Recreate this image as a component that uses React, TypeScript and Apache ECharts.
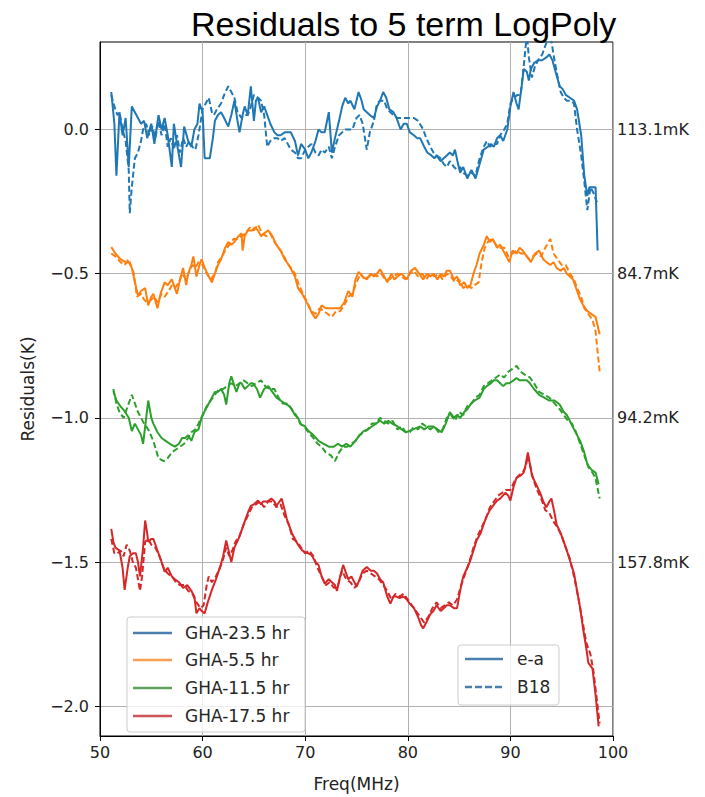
import React, { useEffect, useRef } from "react";
import * as echarts from "echarts";

// ---- data (frequency MHz, residual K) ----
const ea_23: number[][] = [[51.1,0.13],[51.4,0.02],[51.6,-0.16],[51.9,0.06],[52.2,-0.02],[52.5,0.04],[52.8,-0.13],[53.1,0.08],[53.4,0.06],[53.7,0.04],[54.0,0.02],[54.3,0.03],[54.6,-0.03],[55.0,0.02],[55.3,-0.05],[55.7,0.05],[56.0,0.0],[56.3,0.04],[56.6,-0.02],[57.0,-0.13],[57.2,0.02],[57.5,-0.05],[57.9,-0.13],[58.2,0.01],[58.6,-0.04],[58.9,-0.06],[59.2,0.0],[59.5,0.02],[59.7,0.09],[60.0,0.06],[60.2,-0.1],[60.7,-0.1],[61.0,-0.03],[61.2,0.03],[61.5,0.05],[61.8,0.06],[62.1,0.04],[62.5,0.01],[62.8,0.05],[63.1,0.1],[63.4,0.03],[63.6,-0.01],[63.9,0.05],[64.1,0.08],[64.4,0.05],[64.7,0.15],[65.0,0.03],[65.2,0.1],[65.4,0.11],[65.7,0.06],[66.0,0.08],[66.3,0.05],[66.6,0.02],[67.0,-0.01],[67.3,-0.02],[67.6,-0.02],[68.0,-0.01],[68.3,-0.01],[68.6,-0.01],[69.0,-0.04],[69.3,-0.09],[69.6,-0.05],[70.0,-0.07],[70.3,-0.1],[70.6,-0.08],[71.0,-0.04],[71.3,0.0],[71.6,-0.01],[71.9,-0.01],[72.3,0.06],[72.6,-0.08],[72.9,-0.03],[73.3,0.03],[73.6,0.08],[73.9,0.11],[74.2,0.09],[74.4,0.1],[74.8,0.07],[75.2,0.13],[75.5,0.1],[75.7,0.07],[76.0,0.06],[76.3,0.05],[76.7,0.04],[77.0,0.08],[77.3,0.1],[77.6,0.13],[77.9,0.11],[78.2,0.07],[78.6,0.06],[78.9,0.04],[79.3,0.0],[79.6,0.02],[79.9,0.02],[80.2,-0.01],[80.6,-0.02],[80.9,-0.03],[81.2,-0.03],[81.6,-0.06],[81.9,-0.08],[82.3,-0.09],[82.6,-0.1],[82.8,-0.09],[83.2,-0.11],[83.5,-0.1],[83.8,-0.09],[84.1,-0.08],[84.4,-0.09],[84.6,-0.07],[84.9,-0.12],[85.1,-0.15],[85.4,-0.13],[85.8,-0.17],[86.2,-0.14],[86.6,-0.17],[87.0,-0.12],[87.4,-0.07],[87.8,-0.06],[88.1,-0.05],[88.4,-0.06],[88.7,-0.03],[89.0,-0.02],[89.3,-0.04],[89.7,0.0],[90.0,0.08],[90.3,0.13],[90.6,0.09],[90.8,0.07],[91.1,0.15],[91.3,0.21],[91.6,0.2],[91.8,0.17],[92.0,0.21],[92.3,0.23],[92.7,0.24],[93.1,0.24],[93.5,0.25],[93.8,0.26],[94.1,0.24],[94.4,0.2],[94.8,0.15],[95.1,0.14],[95.4,0.12],[95.8,0.11],[96.2,0.1],[96.5,0.07],[96.9,-0.02],[97.2,-0.16],[97.5,-0.23],[97.7,-0.2],[98.0,-0.2],[98.3,-0.2],[98.5,-0.42]];
const b18_23: number[][] = [[51.1,0.12],[51.4,0.08],[51.7,0.05],[51.9,0.06],[52.2,0.0],[52.5,-0.04],[52.8,-0.14],[52.9,-0.29],[53.1,-0.2],[53.4,-0.1],[53.7,-0.08],[54.0,-0.04],[54.2,0.0],[54.5,0.02],[54.8,-0.02],[55.1,0.01],[55.4,-0.03],[55.7,0.03],[56.0,-0.02],[56.3,0.02],[56.6,-0.06],[56.9,-0.03],[57.2,-0.07],[57.5,-0.02],[57.8,-0.08],[58.1,-0.03],[58.4,-0.06],[58.7,-0.04],[59.0,-0.06],[59.3,-0.07],[59.6,-0.02],[60.0,0.07],[60.3,0.09],[60.6,0.11],[60.9,0.06],[61.1,0.05],[61.4,0.07],[61.8,0.09],[62.1,0.12],[62.5,0.15],[62.8,0.13],[63.1,0.11],[63.4,0.06],[63.8,0.04],[64.1,0.05],[64.4,0.05],[64.7,0.08],[65.0,0.12],[65.4,0.11],[65.7,0.1],[66.0,0.05],[66.3,-0.06],[66.6,-0.04],[67.0,-0.03],[67.3,-0.03],[67.6,-0.04],[68.0,-0.03],[68.3,-0.05],[68.6,-0.07],[69.0,-0.08],[69.3,-0.1],[69.6,-0.1],[70.0,-0.07],[70.3,-0.06],[70.6,-0.05],[71.0,-0.08],[71.3,-0.09],[71.6,-0.07],[71.9,-0.08],[72.3,-0.06],[72.6,-0.1],[72.9,-0.06],[73.3,-0.02],[73.6,-0.01],[73.9,0.0],[74.3,0.0],[74.6,0.0],[75.0,0.04],[75.3,0.05],[75.6,0.02],[76.0,-0.07],[76.3,-0.01],[76.7,0.03],[77.0,0.09],[77.3,0.1],[77.7,0.1],[78.0,0.07],[78.3,0.06],[78.6,0.05],[79.0,0.04],[79.3,0.04],[79.6,0.04],[80.0,0.04],[80.3,0.04],[80.6,0.04],[81.0,0.03],[81.5,0.0],[81.8,-0.03],[82.2,-0.06],[82.5,-0.08],[82.8,-0.09],[83.2,-0.1],[83.5,-0.12],[83.8,-0.13],[84.1,-0.11],[84.5,-0.13],[84.8,-0.14],[85.1,-0.13],[85.4,-0.15],[85.8,-0.16],[86.2,-0.15],[86.6,-0.16],[87.0,-0.1],[87.4,-0.06],[87.7,-0.04],[88.0,-0.06],[88.4,-0.05],[88.7,-0.05],[89.0,-0.02],[89.4,0.0],[89.7,0.02],[90.0,0.09],[90.3,0.11],[90.7,0.12],[91.0,0.12],[91.3,0.22],[91.6,0.33],[91.8,0.25],[92.1,0.18],[92.4,0.22],[92.7,0.24],[93.1,0.26],[93.5,0.3],[93.9,0.33],[94.2,0.26],[94.5,0.2],[94.9,0.13],[95.2,0.11],[95.5,0.1],[95.9,0.1],[96.2,0.09],[96.5,0.0],[96.9,-0.09],[97.2,-0.18],[97.5,-0.28],[97.8,-0.2],[98.1,-0.22],[98.4,-0.25],[98.7,-0.24]];

const ea_5: number[][] = [[51.1,-0.408],[51.5,-0.43],[52.0,-0.45],[52.5,-0.46],[52.8,-0.46],[53.1,-0.48],[53.4,-0.53],[53.7,-0.575],[54.0,-0.56],[54.4,-0.55],[54.7,-0.61],[55.0,-0.58],[55.2,-0.57],[55.6,-0.62],[55.9,-0.57],[56.3,-0.53],[56.6,-0.54],[57.0,-0.52],[57.3,-0.55],[57.5,-0.57],[57.8,-0.52],[58.1,-0.48],[58.4,-0.54],[58.6,-0.5],[58.9,-0.47],[59.1,-0.44],[59.4,-0.51],[59.7,-0.47],[59.9,-0.45],[60.2,-0.48],[60.6,-0.51],[60.9,-0.53],[61.2,-0.5],[61.5,-0.47],[61.8,-0.45],[62.2,-0.41],[62.5,-0.39],[62.8,-0.4],[63.1,-0.39],[63.5,-0.37],[63.8,-0.36],[63.9,-0.42],[64.1,-0.37],[64.4,-0.35],[64.8,-0.35],[65.1,-0.34],[65.4,-0.35],[65.7,-0.37],[66.0,-0.36],[66.4,-0.35],[66.8,-0.37],[67.2,-0.4],[67.6,-0.42],[68.0,-0.45],[68.4,-0.47],[68.7,-0.49],[69.0,-0.51],[69.3,-0.55],[69.7,-0.57],[70.0,-0.59],[70.3,-0.61],[70.7,-0.64],[71.0,-0.655],[71.3,-0.64],[71.6,-0.61],[72.0,-0.62],[72.3,-0.62],[72.8,-0.62],[73.4,-0.62],[73.8,-0.6],[74.2,-0.56],[74.6,-0.58],[74.9,-0.52],[75.2,-0.494],[75.6,-0.51],[76.0,-0.52],[76.4,-0.5],[76.7,-0.51],[77.0,-0.5],[77.3,-0.485],[77.7,-0.51],[78.0,-0.53],[78.4,-0.5],[78.7,-0.52],[79.0,-0.51],[79.4,-0.5],[79.9,-0.52],[80.3,-0.49],[80.7,-0.48],[81.1,-0.5],[81.5,-0.52],[81.9,-0.5],[82.2,-0.51],[82.5,-0.5],[82.9,-0.52],[83.2,-0.5],[83.5,-0.51],[83.8,-0.49],[84.1,-0.49],[84.5,-0.52],[84.8,-0.51],[85.1,-0.54],[85.5,-0.53],[85.8,-0.55],[86.1,-0.54],[86.4,-0.5],[86.7,-0.47],[87.0,-0.43],[87.4,-0.4],[87.7,-0.37],[88.0,-0.39],[88.3,-0.38],[88.7,-0.41],[89.0,-0.4],[89.3,-0.42],[89.6,-0.44],[89.9,-0.46],[90.2,-0.42],[90.6,-0.43],[90.9,-0.41],[91.2,-0.42],[91.6,-0.44],[92.0,-0.46],[92.4,-0.43],[92.8,-0.42],[93.2,-0.45],[93.5,-0.46],[93.9,-0.47],[94.2,-0.46],[94.5,-0.48],[94.9,-0.49],[95.2,-0.48],[95.5,-0.5],[95.8,-0.51],[96.1,-0.52],[96.5,-0.56],[96.8,-0.59],[97.1,-0.61],[97.5,-0.63],[97.9,-0.64],[98.3,-0.65],[98.5,-0.68],[98.7,-0.71]];
const b18_5: number[][] = [[51.1,-0.43],[51.5,-0.44],[52.0,-0.46],[52.4,-0.47],[52.8,-0.45],[53.0,-0.47],[53.3,-0.5],[53.6,-0.58],[54.0,-0.57],[54.3,-0.59],[54.6,-0.6],[55.0,-0.59],[55.3,-0.58],[55.6,-0.6],[56.0,-0.57],[56.3,-0.58],[56.7,-0.56],[57.0,-0.54],[57.3,-0.55],[57.7,-0.53],[58.0,-0.5],[58.4,-0.52],[58.7,-0.49],[59.0,-0.47],[59.3,-0.48],[59.6,-0.46],[60.0,-0.47],[60.4,-0.5],[60.8,-0.52],[61.2,-0.5],[61.5,-0.46],[61.9,-0.44],[62.2,-0.42],[62.6,-0.4],[63.0,-0.38],[63.4,-0.38],[63.8,-0.37],[64.2,-0.36],[64.6,-0.34],[65.0,-0.35],[65.4,-0.33],[65.8,-0.36],[66.2,-0.37],[66.6,-0.36],[67.0,-0.39],[67.4,-0.41],[67.8,-0.43],[68.2,-0.46],[68.6,-0.48],[69.0,-0.5],[69.4,-0.54],[69.8,-0.57],[70.2,-0.6],[70.6,-0.63],[71.0,-0.64],[71.4,-0.62],[71.8,-0.63],[72.2,-0.64],[72.6,-0.65],[73.0,-0.63],[73.4,-0.63],[73.8,-0.61],[74.2,-0.58],[74.6,-0.57],[75.0,-0.53],[75.4,-0.5],[75.8,-0.52],[76.2,-0.51],[76.6,-0.5],[77.0,-0.51],[77.4,-0.5],[77.8,-0.52],[78.2,-0.52],[78.6,-0.51],[79.0,-0.5],[79.4,-0.51],[79.8,-0.52],[80.2,-0.5],[80.6,-0.49],[81.0,-0.51],[81.4,-0.5],[81.8,-0.52],[82.2,-0.5],[82.6,-0.51],[83.0,-0.5],[83.4,-0.52],[83.8,-0.5],[84.2,-0.51],[84.6,-0.53],[85.0,-0.52],[85.4,-0.55],[85.8,-0.54],[86.2,-0.55],[86.5,-0.54],[86.9,-0.53],[87.2,-0.46],[87.5,-0.41],[87.8,-0.39],[88.2,-0.38],[88.6,-0.4],[89.0,-0.41],[89.4,-0.41],[89.8,-0.44],[90.2,-0.43],[90.6,-0.42],[91.0,-0.43],[91.4,-0.43],[91.8,-0.45],[92.2,-0.44],[92.6,-0.43],[93.0,-0.44],[93.4,-0.41],[93.9,-0.38],[94.2,-0.43],[94.6,-0.45],[95.0,-0.47],[95.4,-0.47],[95.8,-0.5],[96.2,-0.52],[96.5,-0.55],[96.9,-0.58],[97.2,-0.62],[97.6,-0.64],[98.0,-0.66],[98.3,-0.7],[98.5,-0.77],[98.7,-0.84]];

const ea_11: number[][] = [[51.3,-0.908],[51.6,-0.94],[52.0,-0.96],[52.4,-0.977],[52.8,-1.0],[53.1,-1.046],[53.4,-1.02],[53.7,-1.04],[54.0,-1.06],[54.2,-1.09],[54.5,-1.0],[54.7,-0.94],[55.0,-1.0],[55.2,-1.02],[55.6,-1.05],[56.0,-1.07],[56.4,-1.08],[56.8,-1.09],[57.3,-1.1],[57.7,-1.09],[58.0,-1.07],[58.3,-1.07],[58.6,-1.06],[58.9,-1.08],[59.2,-1.05],[59.6,-1.04],[59.9,-1.0],[60.2,-0.977],[60.6,-0.95],[60.9,-0.93],[61.2,-0.91],[61.5,-0.91],[61.8,-0.9],[62.1,-0.92],[62.3,-0.954],[62.6,-0.88],[62.8,-0.856],[63.1,-0.89],[63.3,-0.91],[63.6,-0.88],[63.8,-0.88],[64.1,-0.9],[64.4,-0.89],[64.7,-0.88],[64.9,-0.88],[65.3,-0.9],[65.6,-0.93],[66.0,-0.9],[66.4,-0.89],[66.8,-0.91],[67.2,-0.93],[67.6,-0.94],[68.0,-0.95],[68.5,-0.96],[69.0,-0.99],[69.3,-1.0],[69.6,-1.023],[70.0,-1.03],[70.3,-1.045],[70.8,-1.06],[71.3,-1.08],[71.8,-1.09],[72.3,-1.1],[72.8,-1.1],[73.2,-1.09],[73.6,-1.1],[74.0,-1.09],[74.4,-1.1],[74.9,-1.08],[75.3,-1.06],[75.7,-1.046],[76.1,-1.04],[76.5,-1.03],[76.9,-1.02],[77.3,-1.01],[77.7,-1.02],[78.1,-1.01],[78.5,-1.02],[79.0,-1.03],[79.4,-1.04],[79.8,-1.05],[80.1,-1.046],[80.5,-1.04],[80.9,-1.035],[81.2,-1.03],[81.6,-1.04],[82.0,-1.03],[82.5,-1.03],[82.9,-1.04],[83.3,-1.05],[83.7,-1.02],[84.1,-0.98],[84.5,-1.0],[84.8,-0.99],[85.1,-1.0],[85.5,-0.98],[85.8,-0.97],[86.1,-0.954],[86.5,-0.94],[87.0,-0.93],[87.4,-0.9],[87.7,-0.89],[88.1,-0.88],[88.4,-0.87],[88.7,-0.87],[89.0,-0.88],[89.3,-0.89],[89.6,-0.88],[89.9,-0.88],[90.3,-0.87],[90.6,-0.862],[90.9,-0.87],[91.3,-0.87],[91.6,-0.87],[91.9,-0.88],[92.3,-0.9],[92.8,-0.92],[93.3,-0.93],[93.8,-0.94],[94.3,-0.94],[94.8,-0.954],[95.2,-0.98],[95.5,-0.99],[95.8,-1.011],[96.2,-1.04],[96.5,-1.06],[96.8,-1.08],[97.2,-1.12],[97.5,-1.161],[97.9,-1.18],[98.3,-1.19],[98.6,-1.23]];
const b18_11: number[][] = [[51.3,-0.9],[51.6,-0.95],[51.9,-0.98],[52.3,-1.0],[52.7,-0.96],[53.1,-0.92],[53.4,-0.95],[53.7,-0.98],[54.0,-1.0],[54.3,-1.02],[54.7,-1.04],[55.2,-1.08],[55.7,-1.14],[56.2,-1.15],[56.6,-1.14],[57.0,-1.12],[57.4,-1.11],[57.8,-1.1],[58.2,-1.09],[58.6,-1.07],[58.9,-1.05],[59.3,-1.04],[59.6,-1.02],[60.0,-0.99],[60.4,-0.96],[60.8,-0.94],[61.2,-0.92],[61.6,-0.9],[62.0,-0.9],[62.4,-0.89],[62.8,-0.88],[63.2,-0.89],[63.6,-0.88],[64.0,-0.87],[64.4,-0.88],[64.8,-0.89],[65.2,-0.88],[65.7,-0.87],[66.1,-0.89],[66.5,-0.9],[67.0,-0.9],[67.4,-0.93],[67.8,-0.95],[68.2,-0.95],[68.7,-0.97],[69.1,-0.99],[69.5,-1.02],[69.9,-1.03],[70.3,-1.05],[70.8,-1.07],[71.2,-1.09],[71.6,-1.1],[72.0,-1.12],[72.5,-1.13],[72.9,-1.15],[73.3,-1.12],[73.7,-1.1],[74.1,-1.1],[74.5,-1.09],[74.9,-1.08],[75.3,-1.06],[75.7,-1.05],[76.1,-1.04],[76.5,-1.02],[76.9,-1.02],[77.3,-1.0],[77.7,-1.01],[78.1,-1.02],[78.5,-1.01],[79.0,-1.04],[79.4,-1.03],[79.8,-1.05],[80.2,-1.05],[80.6,-1.03],[81.0,-1.04],[81.4,-1.02],[81.8,-1.03],[82.2,-1.04],[82.6,-1.03],[83.0,-1.05],[83.4,-1.04],[83.8,-1.0],[84.2,-0.99],[84.6,-1.01],[85.0,-0.98],[85.4,-0.99],[85.8,-0.96],[86.2,-0.95],[86.6,-0.93],[87.0,-0.92],[87.4,-0.89],[87.8,-0.88],[88.2,-0.87],[88.6,-0.86],[89.0,-0.85],[89.4,-0.86],[89.8,-0.84],[90.2,-0.83],[90.6,-0.82],[91.0,-0.84],[91.4,-0.85],[91.9,-0.86],[92.3,-0.88],[92.8,-0.91],[93.3,-0.92],[93.8,-0.93],[94.3,-0.95],[94.8,-0.97],[95.2,-0.99],[95.6,-1.01],[96.0,-1.02],[96.4,-1.05],[96.8,-1.09],[97.2,-1.13],[97.6,-1.17],[98.0,-1.19],[98.3,-1.21],[98.7,-1.28]];

const ea_17: number[][] = [[51.1,-1.385],[51.3,-1.43],[51.5,-1.45],[51.9,-1.46],[52.2,-1.52],[52.4,-1.597],[52.7,-1.52],[52.9,-1.48],[53.2,-1.47],[53.5,-1.47],[53.7,-1.5],[53.9,-1.55],[54.2,-1.45],[54.4,-1.356],[54.6,-1.4],[54.7,-1.43],[55.0,-1.42],[55.2,-1.42],[55.6,-1.46],[56.0,-1.5],[56.3,-1.534],[56.6,-1.52],[57.0,-1.55],[57.3,-1.56],[57.7,-1.57],[58.1,-1.59],[58.5,-1.58],[58.9,-1.6],[59.2,-1.62],[59.4,-1.678],[59.7,-1.66],[59.9,-1.67],[60.2,-1.678],[60.5,-1.64],[60.9,-1.597],[61.3,-1.56],[61.7,-1.517],[62.0,-1.48],[62.3,-1.425],[62.6,-1.47],[62.8,-1.5],[63.1,-1.45],[63.5,-1.42],[63.8,-1.39],[64.1,-1.36],[64.4,-1.33],[64.7,-1.305],[65.0,-1.3],[65.4,-1.287],[65.7,-1.3],[65.9,-1.29],[66.3,-1.29],[66.7,-1.28],[67.0,-1.29],[67.2,-1.305],[67.5,-1.29],[67.7,-1.28],[68.0,-1.32],[68.2,-1.35],[68.5,-1.38],[68.7,-1.4],[69.0,-1.42],[69.3,-1.44],[69.7,-1.46],[70.0,-1.466],[70.3,-1.47],[70.6,-1.475],[71.0,-1.5],[71.3,-1.51],[71.6,-1.55],[71.9,-1.575],[72.3,-1.56],[72.6,-1.57],[72.9,-1.58],[73.1,-1.6],[73.4,-1.55],[73.7,-1.51],[74.0,-1.54],[74.2,-1.56],[74.5,-1.55],[74.8,-1.57],[75.0,-1.586],[75.3,-1.56],[75.6,-1.53],[76.0,-1.517],[76.4,-1.53],[76.7,-1.53],[77.0,-1.54],[77.3,-1.56],[77.6,-1.57],[78.0,-1.62],[78.3,-1.644],[78.6,-1.62],[78.9,-1.62],[79.2,-1.625],[79.6,-1.62],[79.9,-1.63],[80.2,-1.645],[80.6,-1.66],[81.0,-1.69],[81.3,-1.72],[81.5,-1.73],[81.8,-1.71],[82.2,-1.68],[82.5,-1.67],[82.8,-1.65],[83.2,-1.67],[83.5,-1.66],[83.8,-1.65],[84.1,-1.65],[84.5,-1.66],[84.8,-1.66],[85.1,-1.6],[85.4,-1.55],[85.8,-1.52],[86.1,-1.494],[86.4,-1.46],[86.7,-1.425],[87.1,-1.4],[87.4,-1.368],[87.7,-1.34],[88.0,-1.32],[88.4,-1.3],[88.7,-1.287],[89.0,-1.28],[89.5,-1.26],[89.8,-1.27],[90.0,-1.287],[90.3,-1.24],[90.6,-1.207],[91.0,-1.2],[91.3,-1.19],[91.5,-1.16],[91.7,-1.12],[91.9,-1.16],[92.1,-1.2],[92.5,-1.23],[92.9,-1.26],[93.2,-1.29],[93.5,-1.31],[93.8,-1.29],[94.0,-1.28],[94.3,-1.33],[94.5,-1.37],[94.9,-1.4],[95.2,-1.43],[95.5,-1.46],[95.8,-1.494],[96.2,-1.54],[96.5,-1.6],[96.8,-1.66],[97.1,-1.735],[97.4,-1.8],[97.6,-1.85],[98.0,-1.87],[98.3,-1.96],[98.6,-2.07]];
const b18_17: number[][] = [[51.1,-1.42],[51.4,-1.47],[51.7,-1.47],[52.0,-1.46],[52.3,-1.48],[52.6,-1.44],[52.9,-1.46],[53.2,-1.5],[53.5,-1.52],[53.9,-1.6],[54.1,-1.55],[54.4,-1.43],[54.7,-1.42],[55.0,-1.44],[55.4,-1.45],[55.8,-1.48],[56.2,-1.52],[56.6,-1.54],[57.0,-1.55],[57.4,-1.57],[57.8,-1.58],[58.2,-1.58],[58.6,-1.6],[59.0,-1.61],[59.4,-1.64],[59.8,-1.66],[60.1,-1.65],[60.4,-1.58],[60.6,-1.55],[60.9,-1.57],[61.3,-1.55],[61.7,-1.52],[62.0,-1.49],[62.3,-1.45],[62.6,-1.48],[62.9,-1.46],[63.2,-1.43],[63.6,-1.41],[64.0,-1.37],[64.4,-1.34],[64.8,-1.31],[65.2,-1.3],[65.6,-1.29],[66.0,-1.31],[66.4,-1.29],[66.8,-1.29],[67.2,-1.31],[67.6,-1.3],[68.0,-1.34],[68.4,-1.37],[68.8,-1.42],[69.2,-1.43],[69.6,-1.45],[70.0,-1.47],[70.4,-1.46],[70.8,-1.48],[71.2,-1.52],[71.6,-1.55],[72.0,-1.58],[72.4,-1.57],[72.8,-1.59],[73.2,-1.58],[73.6,-1.53],[74.0,-1.56],[74.4,-1.57],[74.8,-1.59],[75.2,-1.57],[75.6,-1.54],[76.0,-1.53],[76.4,-1.54],[76.8,-1.55],[77.2,-1.56],[77.6,-1.58],[78.0,-1.6],[78.4,-1.63],[78.8,-1.61],[79.2,-1.62],[79.6,-1.61],[80.0,-1.63],[80.4,-1.65],[80.8,-1.67],[81.2,-1.69],[81.6,-1.71],[82.0,-1.69],[82.4,-1.66],[82.8,-1.64],[83.2,-1.66],[83.6,-1.65],[84.0,-1.64],[84.4,-1.65],[84.8,-1.63],[85.2,-1.58],[85.6,-1.54],[86.0,-1.5],[86.4,-1.45],[86.8,-1.41],[87.2,-1.38],[87.6,-1.35],[88.0,-1.31],[88.4,-1.29],[88.8,-1.27],[89.2,-1.26],[89.6,-1.25],[90.0,-1.25],[90.4,-1.22],[90.8,-1.2],[91.2,-1.19],[91.5,-1.17],[91.7,-1.13],[91.9,-1.16],[92.2,-1.21],[92.6,-1.25],[93.0,-1.28],[93.4,-1.32],[93.8,-1.33],[94.2,-1.36],[94.6,-1.38],[95.0,-1.41],[95.4,-1.45],[95.8,-1.49],[96.2,-1.55],[96.6,-1.62],[97.0,-1.7],[97.4,-1.78],[97.8,-1.82],[98.1,-1.88],[98.4,-1.97],[98.7,-2.06]];

const ghaNames = ["GHA-23.5 hr", "GHA-5.5 hr", "GHA-11.5 hr", "GHA-17.5 hr"];
const ghaColors = ["#1f77b4", "#ff7f0e", "#2ca02c", "#d62728"];
const legendColors = ["#4a7fb0", "#f5a055", "#5fa25f", "#d0535a"];
const eaSeries = [ea_23, ea_5, ea_11, ea_17];
const b18Series = [b18_23, b18_5, b18_11, b18_17];
const rmsLabels = ["113.1mK", "84.7mK", "94.2mK", "157.8mK"];
const rmsOffsets = [0, -0.5, -1.0, -1.5];
const yTicks = [0, -0.5, -1.0, -1.5, -2.0];
const xTicks = [50, 60, 70, 80, 90, 100];

const FONT = "DejaVu Sans";

export default function App() {
  const ref = useRef<HTMLDivElement>(null);
  useEffect(() => {
    document.body.style.margin = "0";
    if (!ref.current) return;
    const chart = echarts.init(ref.current, undefined, { renderer: "svg" });
    const series: any[] = [];
    for (let i = 0; i < 4; i++) {
      series.push({
        name: ghaNames[i] + " e-a",
        type: "line",
        data: eaSeries[i],
        showSymbol: false,
        symbol: "none",
        lineStyle: { color: ghaColors[i], width: 2 },
        z: 3,
      });
      series.push({
        name: ghaNames[i] + " B18",
        type: "line",
        data: b18Series[i],
        showSymbol: false,
        symbol: "none",
        lineStyle: { color: ghaColors[i], width: 2, type: [6, 3] },
        z: 3,
      });
    }
    const fmt = (v: number) => v.toFixed(1).replace("-", "\u2212");
    chart.setOption({
      animation: false,
      title: {
        text: "Residuals to 5 term LogPoly",
        left: 186,
        top: 2,
        textStyle: { fontFamily: "Liberation Sans", fontSize: 34, fontWeight: "normal", color: "#000" },
      },
      grid: { left: 100, top: 42, width: 513, height: 698, show: true, borderColor: "#000", borderWidth: 1, backgroundColor: "transparent" },
      xAxis: {
        type: "value",
        min: 50,
        max: 100,
        interval: 10,
        name: "Freq(MHz)",
        nameLocation: "middle",
        nameGap: 39,
        nameTextStyle: { fontFamily: FONT, fontSize: 17, color: "#222" },
        axisLine: { show: true, onZero: false, lineStyle: { color: "#000", width: 1 } },
        axisTick: { show: true, length: 5, lineStyle: { color: "#000" }, customValues: xTicks },
        axisLabel: { fontFamily: FONT, fontSize: 16, color: "#222", margin: 8, customValues: xTicks },
        splitLine: { show: true, lineStyle: { color: "#b0b0b0", width: 1 } },
      },
      yAxis: {
        type: "value",
        min: -2.1034,
        max: 0.3034,
        name: "Residuals(K)",
        nameLocation: "middle",
        nameGap: 64,
        nameRotate: 90,
        nameTextStyle: { fontFamily: FONT, fontSize: 17, color: "#222" },
        axisLine: { show: true, onZero: false, lineStyle: { color: "#000", width: 1 } },
        axisTick: { show: true, length: 5, lineStyle: { color: "#000" }, customValues: yTicks },
        axisLabel: { fontFamily: FONT, fontSize: 16, color: "#222", margin: 11, customValues: yTicks, formatter: (v: number) => fmt(v) },
        splitLine: { show: true, lineStyle: { color: "#b0b0b0", width: 1 } },
      },
      series,
    });

    const graphics: any[] = [];
    // rms labels on the right
    for (let i = 0; i < rmsLabels.length; i++) {
      const p = chart.convertToPixel({ gridIndex: 0 }, [100, rmsOffsets[i]]) as number[];
      graphics.push({
        type: "text",
        x: p[0] + 4,
        y: p[1],
        style: { text: rmsLabels[i], fontFamily: FONT, fontSize: 16, fill: "#222", verticalAlign: "middle", align: "left" },
        z: 10,
      });
    }
    // left legend (GHA)
    graphics.push({
      type: "rect",
      shape: { x: 127, y: 617, width: 178, height: 115, r: 3 },
      style: { fill: "rgba(255,255,255,0.8)", stroke: "#cccccc", lineWidth: 1 },
      z: 10,
    });
    const rowsY = [633, 660, 688, 716];
    for (let i = 0; i < 4; i++) {
      graphics.push({
        type: "line",
        shape: { x1: 133, y1: rowsY[i], x2: 172, y2: rowsY[i] },
        style: { stroke: legendColors[i], lineWidth: 2.5 },
        z: 11,
      });
      graphics.push({
        type: "text",
        x: 185,
        y: rowsY[i],
        style: { text: ghaNames[i], fontFamily: FONT, fontSize: 17, fill: "#262626", verticalAlign: "middle", align: "left" },
        z: 11,
      });
    }
    // right legend (line style)
    graphics.push({
      type: "rect",
      shape: { x: 458, y: 645, width: 101, height: 60, r: 3 },
      style: { fill: "rgba(255,255,255,0.8)", stroke: "#cccccc", lineWidth: 1 },
      z: 10,
    });
    const styleNames = ["e-a", "B18"];
    const styleRows = [659, 687];
    for (let i = 0; i < 2; i++) {
      graphics.push({
        type: "line",
        shape: { x1: 465, y1: styleRows[i], x2: 503, y2: styleRows[i] },
        style: { stroke: legendColors[0], lineWidth: 2.5, lineDash: i === 1 ? [7, 3] : null },
        z: 11,
      });
      graphics.push({
        type: "text",
        x: 517,
        y: styleRows[i],
        style: { text: styleNames[i], fontFamily: FONT, fontSize: 17, fill: "#262626", verticalAlign: "middle", align: "left" },
        z: 11,
      });
    }
    chart.setOption({ graphic: graphics });
    return () => chart.dispose();
  }, []);
  return <div ref={ref} style={{ width: 705, height: 797 }} />;
}
